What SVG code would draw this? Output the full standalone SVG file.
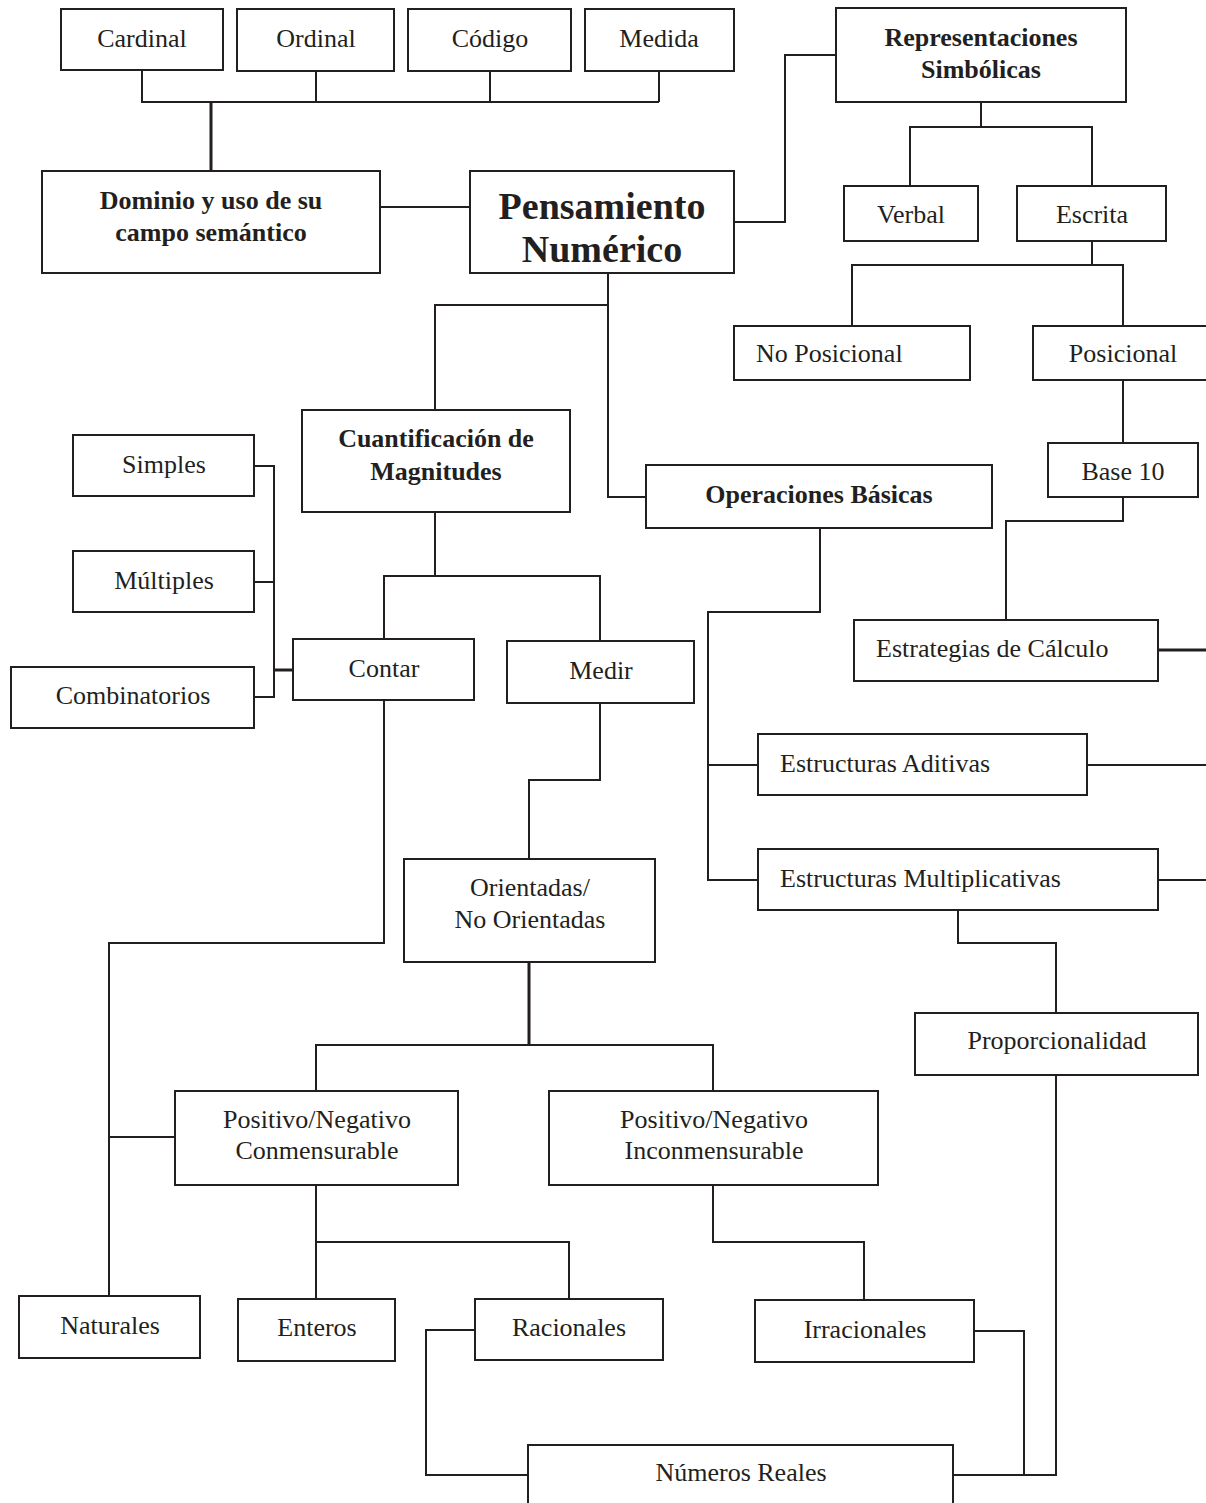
<svg xmlns="http://www.w3.org/2000/svg" width="1206" height="1503" viewBox="0 0 1206 1503">
<style>
.b{fill:#fff;stroke:#231f20;stroke-width:2}
.t{font-family:"Liberation Serif","Times New Roman",serif;font-size:26px;fill:#231f20;text-anchor:middle}
.l{text-anchor:start}
.bd{font-weight:bold}
.big{font-size:38px}
.c{fill:none;stroke:#231f20;stroke-width:2}
.k{stroke-width:3}
</style>
<rect width="1206" height="1503" fill="#fff"/>
<g id="connectors">
<path class="c" d="M142 70V102H659M316 71V102M490 71V102M659 71V102"/>
<path class="c k" d="M211 102V171"/>
<path class="c" d="M380 207H470"/>
<path class="c" d="M734 222H785V55H836"/>
<path class="c" d="M981 102V127M910 186V127H1092V186"/>
<path class="c" d="M1092 241V265M852 326V265H1123V326"/>
<path class="c" d="M1123 380V443"/>
<path class="c" d="M1123 497V521H1006V620"/>
<path class="c k" d="M1158 650H1206"/>
<path class="c" d="M608 273V497H646M608 305H435V410"/>
<path class="c" d="M820 528V612H708V880H758M708 765H758"/>
<path class="c" d="M1087 765H1206M1158 880H1206"/>
<path class="c" d="M958 910V943H1056V1013"/>
<path class="c" d="M1056 1075V1475H953"/>
<path class="c" d="M435 512V576M384 639V576H600V641"/>
<path class="c" d="M254 466H274V697H254M254 582H274"/>
<path class="c k" d="M274 670H293"/>
<path class="c" d="M384 700V943H109V1296M109 1137H175"/>
<path class="c" d="M600 703V780H529V859"/>
<path class="c k" d="M529 962V1045"/>
<path class="c" d="M316 1091V1045H713V1091"/>
<path class="c" d="M316 1185V1299M316 1242H569V1299"/>
<path class="c" d="M713 1185V1242H864V1300"/>
<path class="c" d="M475 1330H426V1475H528"/>
<path class="c" d="M974 1331H1024V1475"/>
</g>
<g id="cardinal"><rect class="b" x="61" y="9" width="162" height="61"/><text class="t" x="142" y="47">Cardinal</text></g>
<g id="ordinal"><rect class="b" x="237" y="9" width="157" height="62"/><text class="t" x="316" y="47">Ordinal</text></g>
<g id="codigo"><rect class="b" x="408" y="9" width="163" height="62"/><text class="t" x="490" y="47">Código</text></g>
<g id="medida"><rect class="b" x="585" y="9" width="149" height="62"/><text class="t" x="659" y="47">Medida</text></g>
<g id="representaciones"><rect class="b" x="836" y="8" width="290" height="94"/><text class="t bd" x="981" y="46">Representaciones</text><text class="t bd" x="981" y="78">Simbólicas</text></g>
<g id="dominio"><rect class="b" x="42" y="171" width="338" height="102"/><text class="t bd" x="211" y="209">Dominio y uso de su</text><text class="t bd" x="211" y="241">campo semántico</text></g>
<g id="pensamiento"><rect class="b" x="470" y="171" width="264" height="102"/><text class="t bd big" x="602" y="219">Pensamiento</text><text class="t bd big" x="602" y="262">Numérico</text></g>
<g id="verbal"><rect class="b" x="844" y="186" width="134" height="55"/><text class="t" x="911" y="223">Verbal</text></g>
<g id="escrita"><rect class="b" x="1017" y="186" width="149" height="55"/><text class="t" x="1092" y="223">Escrita</text></g>
<g id="noposicional"><rect class="b" x="734" y="326" width="236" height="54"/><text class="t l" x="756" y="362">No Posicional</text></g>
<g id="posicional"><rect class="b" x="1033" y="326" width="180" height="54"/><text class="t" x="1123" y="362">Posicional</text></g>
<g id="base10"><rect class="b" x="1048" y="443" width="150" height="54"/><text class="t" x="1123" y="480">Base 10</text></g>
<g id="cuantificacion"><rect class="b" x="302" y="410" width="268" height="102"/><text class="t bd" x="436" y="447">Cuantificación de</text><text class="t bd" x="436" y="480">Magnitudes</text></g>
<g id="operaciones"><rect class="b" x="646" y="465" width="346" height="63"/><text class="t bd" x="819" y="503">Operaciones Básicas</text></g>
<g id="simples"><rect class="b" x="73" y="435" width="181" height="61"/><text class="t" x="164" y="473">Simples</text></g>
<g id="multiples"><rect class="b" x="73" y="551" width="181" height="61"/><text class="t" x="164" y="589">Múltiples</text></g>
<g id="combinatorios"><rect class="b" x="11" y="667" width="243" height="61"/><text class="t" x="133" y="704">Combinatorios</text></g>
<g id="contar"><rect class="b" x="293" y="639" width="181" height="61"/><text class="t" x="384" y="677">Contar</text></g>
<g id="medir"><rect class="b" x="507" y="641" width="187" height="62"/><text class="t" x="601" y="679">Medir</text></g>
<g id="estrategias"><rect class="b" x="854" y="620" width="304" height="61"/><text class="t l" x="876" y="657">Estrategias de Cálculo</text></g>
<g id="aditivas"><rect class="b" x="758" y="734" width="329" height="61"/><text class="t l" x="780" y="772">Estructuras Aditivas</text></g>
<g id="multiplicativas"><rect class="b" x="758" y="849" width="400" height="61"/><text class="t l" x="780" y="887">Estructuras Multiplicativas</text></g>
<g id="orientadas"><rect class="b" x="404" y="859" width="251" height="103"/><text class="t" x="530" y="896">Orientadas/</text><text class="t" x="530" y="928">No Orientadas</text></g>
<g id="proporcionalidad"><rect class="b" x="915" y="1013" width="283" height="62"/><text class="t" x="1057" y="1049">Proporcionalidad</text></g>
<g id="conmensurable"><rect class="b" x="175" y="1091" width="283" height="94"/><text class="t" x="317" y="1128">Positivo/Negativo</text><text class="t" x="317" y="1159">Conmensurable</text></g>
<g id="inconmensurable"><rect class="b" x="549" y="1091" width="329" height="94"/><text class="t" x="714" y="1128">Positivo/Negativo</text><text class="t" x="714" y="1159">Inconmensurable</text></g>
<g id="naturales"><rect class="b" x="19" y="1296" width="181" height="62"/><text class="t" x="110" y="1334">Naturales</text></g>
<g id="enteros"><rect class="b" x="238" y="1299" width="157" height="62"/><text class="t" x="317" y="1336">Enteros</text></g>
<g id="racionales"><rect class="b" x="475" y="1299" width="188" height="61"/><text class="t" x="569" y="1336">Racionales</text></g>
<g id="irracionales"><rect class="b" x="755" y="1300" width="219" height="62"/><text class="t" x="865" y="1338">Irracionales</text></g>
<g id="reales"><rect class="b" x="528" y="1445" width="425" height="70"/><text class="t" x="741" y="1481">Números Reales</text></g>
</svg>
